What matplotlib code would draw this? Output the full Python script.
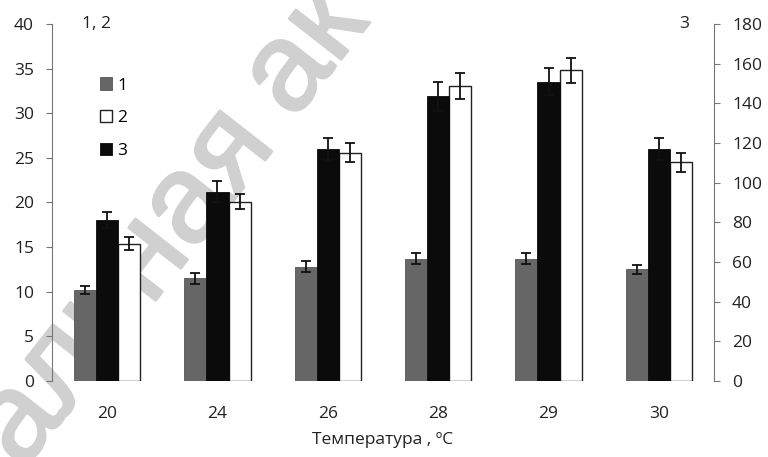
import numpy as np
import matplotlib.pyplot as plt
import matplotlib.patheffects as pe

plt.rcParams['font.family'] = ['Open Sans', 'DejaVu Sans']

temps = ['20', '24', '26', '28', '29', '30']

# series 1 and 2 (left axis), series 3 (right axis)
s1 = [10.2, 11.5, 12.8, 13.7, 13.7, 12.5]
s1_err = [0.4, 0.6, 0.6, 0.6, 0.6, 0.5]
s2 = [15.4, 20.1, 25.6, 33.1, 34.8, 24.5]
s2_err = [0.7, 0.85, 1.1, 1.45, 1.4, 1.1]
s3 = [81, 95.5, 117, 143.5, 151, 117]
s3_err = [4, 5.5, 5.5, 7.5, 7, 5.5]

W, H = 768, 457
fig = plt.figure(figsize=(W / 100, H / 100), dpi=100)


def px(x, y):
    return x / W, 1 - y / H


# faint diagonal watermark behind the plot, two words along one line
wm_color = '#d0d0d0'
wm = dict(rotation=52, va='center', rotation_mode='anchor', fontsize=90,
          color=wm_color, family=['Liberation Sans', 'DejaVu Sans'], zorder=-1,
          path_effects=[pe.withStroke(linewidth=2, foreground=wm_color)])
fig.text(*px(252, 125), 'альная', ha='right', **wm)
fig.text(*px(268, 101), 'ак', ha='left', **wm)

ax = fig.add_axes([0.0677, 0.1663, 0.862, 0.7812])
ax.patch.set_visible(False)
ax2 = ax.twinx()

x = np.arange(len(temps))
w = 0.2
ekw = dict(elinewidth=1.3, capthick=1.3, ecolor='#111111')

ax.bar(x - w, s1, w, color='#666666', edgecolor='#555555', linewidth=0.6,
       yerr=s1_err, capsize=3.8, error_kw=ekw, label='1', zorder=2)
ax.bar(x + w, s2, w, color='white', edgecolor='#222222', linewidth=1.0,
       yerr=s2_err, capsize=3.8, error_kw=ekw, label='2', zorder=2)
ax2.bar(x, s3, w, color='#0b0b0b', edgecolor='#0b0b0b', linewidth=0.6,
        yerr=s3_err, capsize=3.8, error_kw=ekw, label='3', zorder=2)

ax.set_xlim(-0.5, 5.5)
ax.set_ylim(0, 40)
ax2.set_ylim(0, 180)
ax.set_yticks(np.arange(0, 41, 5))
ax2.set_yticks(np.arange(0, 181, 20))
ax.set_xticks(x)
ax.set_xticklabels(temps)

for a in (ax, ax2):
    a.spines['top'].set_visible(False)
    a.spines['bottom'].set_visible(False)
    a.tick_params(axis='x', length=0, pad=18, labelsize=12.5, colors='#222222')
    a.tick_params(axis='y', length=4, width=0.8, color='#777777', pad=9,
                  labelsize=12.5, labelcolor='#222222')
ax.spines['right'].set_visible(False)
ax2.spines['left'].set_visible(False)
ax.spines['left'].set_color('#777777')
ax2.spines['right'].set_color('#777777')

ax.set_xlabel('Температура , ºC', fontsize=12.5, color='#222222', labelpad=7)

ax.text(0.045, 1.0, '1, 2', transform=ax.transAxes, ha='left', va='center',
        fontsize=12.5, color='#222222')
ax.text(0.963, 1.0, '3', transform=ax.transAxes, ha='right', va='center',
        fontsize=12.5, color='#222222')

h1, l1 = ax.get_legend_handles_labels()
h2, l2 = ax2.get_legend_handles_labels()
ax2.legend([h1[0], h1[1], h2[0]], ['1', '2', '3'], loc='upper left',
           bbox_to_anchor=(0.062, 0.87), frameon=False, fontsize=12.5,
           handlelength=0.7, handleheight=0.7, handletextpad=0.3,
           labelspacing=0.95, borderaxespad=0)

fig.savefig('out.png', dpi=100)
